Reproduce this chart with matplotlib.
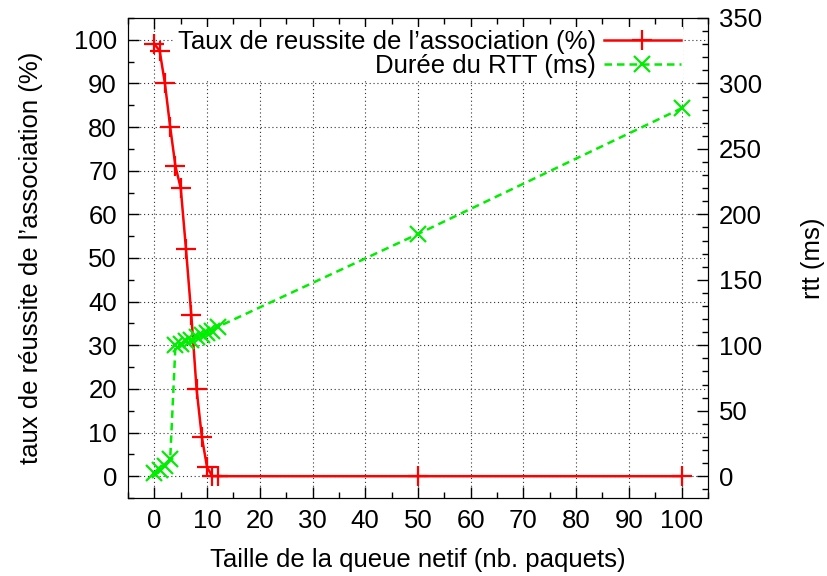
import numpy as np
import matplotlib
matplotlib.use("Agg")
import matplotlib.pyplot as plt
from matplotlib.ticker import MultipleLocator

plt.rcParams['font.family'] = ['Liberation Sans', 'DejaVu Sans']

# taux de reussite (axe gauche)
queue_taux = [0, 1, 2, 3, 4, 5, 6, 7, 8, 9, 10, 11, 12, 50, 100]
taux = [99, 97.5, 90, 80, 71, 66, 52, 37, 20, 9, 2, 0, 0, 0, 0]

# duree du RTT (axe droit)
queue_rtt = [0, 1, 2, 3, 4, 5, 6, 7, 8, 9, 10, 11, 12, 50, 100]
rtt = [2.5, 5, 8, 13, 100, 101, 103, 104, 106, 108, 109, 111, 114, 185, 281]

xticks = list(range(0, 101, 10))
y1ticks = list(range(0, 101, 10))
y2ticks = list(range(0, 351, 50))

fig = plt.figure(figsize=(8.27, 5.76), dpi=100)
ax = fig.add_axes([0.1548, 0.1354, 0.7012, 0.8334])
ax2 = ax.twinx()

l1, = ax.plot(queue_taux, taux, color="#ff0000", lw=1.8, marker="+", ms=14, mew=1.6,
              label="Taux de reussite de l\u2019association (%)", zorder=6)
l2, = ax2.plot(queue_rtt, rtt, color="#00ee00", lw=1.8, ls=(0, (3, 2)), marker="x", ms=11, mew=1.6,
               label="Dur\u00e9e du RTT (ms)", zorder=3)

ax.set_xlim(-5, 105)
ax.set_ylim(-5, 105)
ax2.set_ylim(-350 * 5 / 105, 350)

ax.set_xticks(xticks)
ax.set_yticks(y1ticks)
ax2.set_yticks(y2ticks)
ax.xaxis.set_minor_locator(MultipleLocator(5))
ax.yaxis.set_minor_locator(MultipleLocator(5))
ax2.yaxis.set_minor_locator(MultipleLocator(10))

fs = 18.5
ax.tick_params(which="both", direction="in", top=True, right=False, labelsize=fs, width=1)
ax.tick_params(which="major", length=8, pad=8)
ax.tick_params(which="minor", length=4)
ax2.tick_params(which="both", direction="in", labelsize=fs, width=1)
ax2.tick_params(which="major", length=8, pad=8)
ax2.tick_params(which="minor", length=4)

ax.grid(True, which="major", ls=(0, (1, 2.5)), color="#333333", lw=0.8)
ax.set_axisbelow(True)

ax.set_xlabel("Taille de la queue netif (nb. paquets)", fontsize=fs, labelpad=11)
ax.set_ylabel("taux de r\u00e9ussite de l\u2019association (%)", fontsize=fs, labelpad=22)
ax2.set_ylabel("rtt (ms)", fontsize=fs, labelpad=28)

# legende sur l'axe gauche, la courbe rouge passe devant
leg = ax.legend([l1, l2], [l1.get_label(), l2.get_label()], loc="upper right",
                bbox_to_anchor=(0.98, 1.008), markerfirst=False, fontsize=fs,
                handlelength=3.0, numpoints=1, frameon=True, fancybox=False,
                borderpad=0.1, labelspacing=0.0, handletextpad=0.3)
leg.set_zorder(5)
leg.get_frame().set_edgecolor("none")
leg.get_frame().set_facecolor("white")
leg.get_frame().set_alpha(1)
for t in leg.get_texts():
    t.set_ha("right")

fig.savefig("out.png", dpi=100)
